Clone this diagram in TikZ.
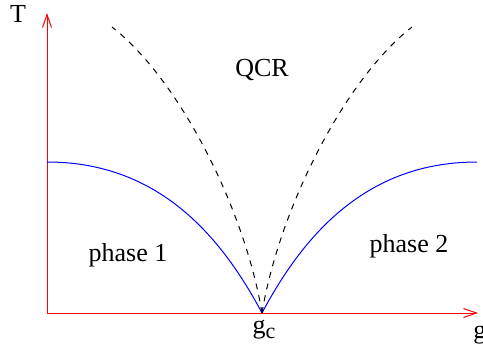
\documentclass[tikz,border=0pt]{standalone}
\usepackage{fontspec}
\setmainfont{Liberation Serif}
\usepackage{tikz}
\usetikzlibrary{arrows.meta}
\tikzset{axis/.style={red, line width=0.5pt, -{Straight Barb[length=6.5pt,width=4.5pt]}},
  border/.style={blue, line width=0.5pt},
  crossover/.style={black, line width=0.5pt, dash pattern=on 3pt off 3pt},
  lbl/.style={font=\fontsize{13}{15}\selectfont, inner sep=0pt}}
\newcommand{\critsub}[1]{\raisebox{-0.5ex}{\fontsize{11}{13}\selectfont #1}}

\begin{document}
\begin{tikzpicture}[x=0.5pt, y=-0.5pt]
\useasboundingbox (0,0) rectangle (483,354);
% axes
\coordinate (O) at (47,313);
\coordinate (Ttop) at (47,13);
\coordinate (gend) at (478,313);
\coordinate (qcp) at (262,313);
\coordinate (Tleft) at (47,162);
\coordinate (Tright) at (477,162);
\coordinate (dl) at (112,27);
\coordinate (dr) at (412,27);
\draw[axis] (O) -- (Ttop);
\draw[axis] (O) -- (gend);
\node[lbl] (T) at (18,14) {T};
\node[lbl, anchor=base west] (g) at (473,338) {g};
\node[lbl, anchor=base] (gc) at (264,333) {g\critsub{c}};
% phase boundaries
\draw[border] (Tleft) .. controls (157,162) and (220,234) .. (qcp);
\draw[border] (qcp) .. controls (304,234) and (367,162) .. (Tright);
% crossover lines
\draw[crossover] (qcp) .. controls (245,210) and (180,80) .. (dl);
\draw[crossover] (qcp) .. controls (279,210) and (344,80) .. (dr);
\node[lbl] (qcr) at (262,70) {QCR};
\node[lbl] (ph1) at (128,255) {phase 1};
\node[lbl] (ph2) at (409,246) {phase 2};
\end{tikzpicture}
\end{document}
